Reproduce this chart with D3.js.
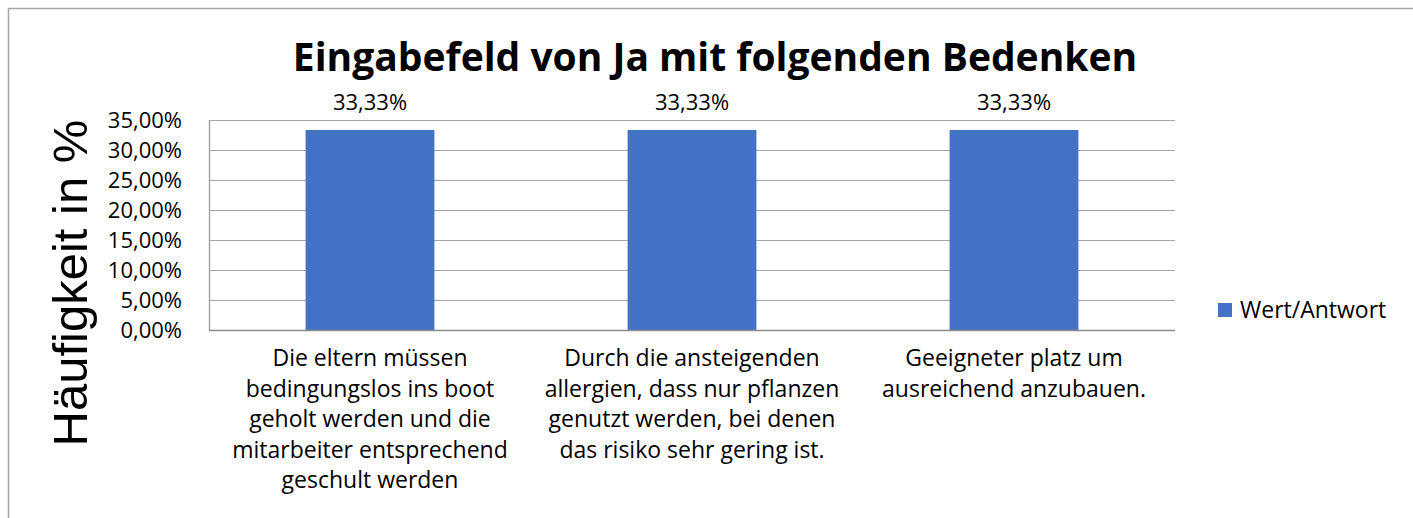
<!DOCTYPE html>
<html lang="de">
<head>
<meta charset="utf-8">
<title>Eingabefeld von Ja mit folgenden Bedenken</title>
<script src="https://cdn.jsdelivr.net/npm/d3@7"></script>
<style>
  body { margin: 0; background: #fff; }
  svg { display: block; }
  .grid line { stroke: #a6a6a6; stroke-width: 1; }
  .lbl { font-family: "Open Sans", Lato, sans-serif; fill: #000; }
</style>
</head>
<body>
<svg width="1413" height="518"></svg>
<script>
// data
var categories = [
  "Die eltern müssen\nbedingungslos ins boot\ngeholt werden und die\nmitarbeiter entsprechend\ngeschult werden",
  "Durch die ansteigenden\nallergien, dass nur pflanzen\ngenutzt werden, bei denen\ndas risiko sehr gering ist.",
  "Geeigneter platz um\nausreichend anzubauen."
];
var values = [33.33, 33.33, 33.33];
var yTicks = [0, 5, 10, 15, 20, 25, 30, 35];
var seriesName = "Wert/Antwort";
var title = "Eingabefeld von Ja mit folgenden Bedenken";
var yTitle = "Häufigkeit in %";

var fmt = function(v) { return v.toFixed(2).replace(".", ",") + "%"; };

var svg = d3.select("svg");
var plot = {left: 209, top: 120, right: 1175, bottom: 330};

// chart border (cropped at right and bottom)
svg.append("path")
  .attr("d", "M8.5,518 V8.5 H1413")
  .attr("fill", "none")
  .attr("stroke", "#a6a6a6")
  .attr("stroke-width", 1.5);

svg.append("text")
  .attr("class", "lbl")
  .attr("x", 715)
  .attr("y", 71)
  .attr("text-anchor", "middle")
  .style("font-weight", "bold")
  .style("font-size", "39px")
  .text(title);

var x = d3.scaleBand()
  .domain(categories)
  .range([plot.left, plot.right])
  .paddingInner(0.6)
  .paddingOuter(0.3);

var y = d3.scaleLinear()
  .domain([0, 35])
  .range([plot.bottom, plot.top]);

var g = svg.append("g");

// gridlines
g.append("g")
  .attr("class", "grid")
  .selectAll("line")
  .data(yTicks.slice(1))
  .enter().append("line")
  .attr("x1", plot.left)
  .attr("x2", plot.right)
  .attr("y1", function(d) { return Math.round(y(d)) + 0.5; })
  .attr("y2", function(d) { return Math.round(y(d)) + 0.5; });

// y axis labels
var yAxis = g.append("g")
  .attr("transform", "translate(" + plot.left + ",0)")
  .call(d3.axisLeft(y).tickValues(yTicks).tickSize(0).tickPadding(27)
    .tickFormat(function(d) { return fmt(d); }));
yAxis.select(".domain").attr("stroke", "#a6a6a6").attr("stroke-width", 1.5);
yAxis.selectAll("text")
  .attr("class", "lbl")
  .style("font-size", "22px")
  .attr("fill", "#000");

// bars
g.selectAll("rect.bar")
  .data(values)
  .enter().append("rect")
  .attr("class", "bar")
  .attr("x", function(d, i) { return x(categories[i]); })
  .attr("width", x.bandwidth())
  .attr("y", function(d) { return y(d); })
  .attr("height", function(d) { return y(0) - y(d); })
  .attr("fill", "#4472c4");

// data labels
g.selectAll("text.val")
  .data(values)
  .enter().append("text")
  .attr("class", "lbl val")
  .attr("x", function(d, i) { return x(categories[i]) + x.bandwidth() / 2; })
  .attr("y", function(d) { return y(35) - 10; })
  .attr("text-anchor", "middle")
  .style("font-size", "22px")
  .text(function(d) { return fmt(d); });

// x axis line
g.append("line")
  .attr("x1", plot.left).attr("x2", plot.right)
  .attr("y1", plot.bottom + 0.5).attr("y2", plot.bottom + 0.5)
  .attr("stroke", "#8c8c8c")
  .attr("stroke-width", 1.5);

// category labels
var cat = g.selectAll("text.cat")
  .data(categories)
  .enter().append("text")
  .attr("class", "lbl cat")
  .attr("text-anchor", "middle")
  .style("font-size", "23px")
  .attr("transform", function(d) { return "translate(" + (x(d) + x.bandwidth() / 2) + "," + (plot.bottom + 36) + ")"; });
cat.selectAll("tspan")
  .data(function(d) { return d.split("\n"); })
  .enter().append("tspan")
  .attr("x", 0)
  .attr("y", function(d, i) { return i * 30.5; })
  .text(function(d) { return d; });

// y axis title
svg.append("text")
  .attr("transform", "translate(87,283) rotate(-90)")
  .attr("text-anchor", "middle")
  .style("font-family", "'Liberation Sans', Arial, sans-serif")
  .style("font-size", "49px")
  .text(yTitle);

// legend
var legend = svg.append("g").attr("transform", "translate(1218,303)");
legend.append("rect")
  .attr("width", 14)
  .attr("height", 14)
  .attr("fill", "#4472c4");
legend.append("text")
  .attr("class", "lbl")
  .attr("x", 22)
  .attr("y", 15)
  .style("font-size", "23px")
  .text(seriesName);
</script>
</body>
</html>
